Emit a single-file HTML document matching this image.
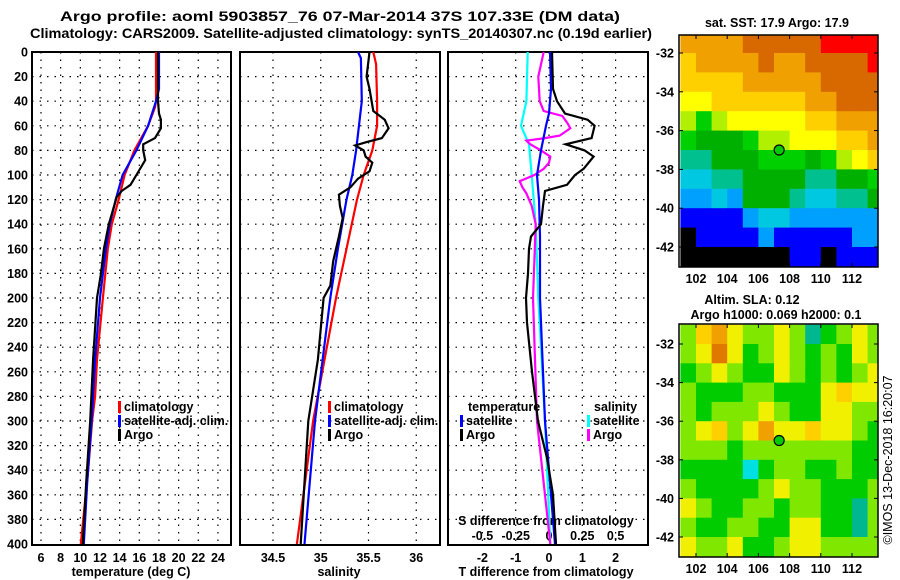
<!DOCTYPE html>
<html><head><meta charset="utf-8"><style>
html,body{margin:0;padding:0;background:#fff;}
svg{display:block;font-family:"Liberation Sans",Arial,sans-serif;font-weight:bold;}
</style></head><body>
<svg id="chart" width="900" height="580" viewBox="0 0 900 580" xmlns="http://www.w3.org/2000/svg">
<defs>
<clipPath id="c1"><rect x="32" y="52" width="199" height="493"/></clipPath>
<clipPath id="c2"><rect x="240" y="52" width="200" height="493"/></clipPath>
<clipPath id="c3"><rect x="448" y="52" width="200" height="493"/></clipPath>
<clipPath id="m1"><rect x="679" y="35" width="199" height="232"/></clipPath>
<clipPath id="m2"><rect x="679" y="324" width="199" height="233"/></clipPath>
</defs>
<text x="60" y="21" font-size="14" textLength="560" lengthAdjust="spacingAndGlyphs">Argo profile: aoml 5903857_76 07-Mar-2014 37S 107.33E (DM data)</text>
<text x="30" y="38" font-size="14" textLength="622" lengthAdjust="spacingAndGlyphs">Climatology: CARS2009. Satellite-adjusted climatology: synTS_20140307.nc (0.19d earlier)</text>
<g id="g"></g>
</svg>
<script>
// ---------- data ----------
const tempDepth = [0,40,45,60,80,100,120,140,160,200,250,280,300,340,400];
const tempClim  = [17.7,17.7,17.6,16.9,15.5,14.5,13.9,13.2,12.8,12.3,11.7,11.5,11.2,10.8,10.05];
const tempSatDepth = [0,30,40,60,80,100,120,140,160,200,250,300,350,400];
const tempSat   = [18.0,18.0,17.7,16.9,15.7,14.3,13.6,13.0,12.6,12.0,11.5,11.15,10.7,10.35];
const argoDepth = [0,40,50,55,62,70,75,80,88,100,108,113,118,140,160,180,200,250,300,350,400];
const argoTemp  = [17.9,17.9,18.0,18.2,18.2,17.6,16.4,16.4,16.6,15.7,15.1,14.2,13.7,12.9,12.4,12.1,11.7,11.3,11.0,10.6,10.25];

const salClim = [35.55,35.58,35.59,35.59,35.54,35.45,35.38,35.27,35.16,34.92,34.75];
const salClimDepth = [0,10,40,60,80,100,120,160,200,300,400];
const salSat = [35.39,35.42,35.43,35.37,35.33,35.27,35.18,35.10,34.94,34.83];
const salSatDepth = [0,5,40,80,100,120,160,200,300,400];
const argoSalDepth = [0,20,30,48,55,62,70,73,76,80,85,90,97,103,110,116,125,135,150,170,190,200,250,300,400];
const argoSal = [35.51,35.48,35.51,35.55,35.67,35.71,35.64,35.49,35.36,35.45,35.47,35.54,35.51,35.39,35.31,35.19,35.20,35.23,35.19,35.13,35.10,35.03,34.97,34.87,34.79];

const dTDepth = [0,30,40,50,55,60,70,75,80,85,95,100,108,113,125,140,150,160,180,200,220,260,300,330,360,400];
const dTArgo  = [0.09,0.12,0.24,0.48,1.16,1.37,1.28,0.5,1.07,1.34,1.04,0.78,0.54,-0.12,-0.18,-0.24,-0.54,-0.6,-0.63,-0.69,-0.66,-0.51,-0.33,-0.06,0.12,0.21];
const dTSatDepth = [0,30,50,60,80,100,120,150,200,300,400];
const dTSat   = [0.03,0.06,0,-0.09,-0.24,-0.36,-0.3,-0.27,-0.27,-0.12,0.18];
const dSSatDepth = [0,40,60,75,100,140,200,300,400];
const dSSat   = [-0.16,-0.17,-0.21,-0.15,-0.13,-0.1,-0.08,-0.03,0.01];
const dSArgoDepth = [0,20,40,48,52,58,62,68,70,72,75,80,85,90,95,100,105,110,115,125,140,200,300,400];
const dSArgo  = [-0.04,-0.08,-0.07,-0.04,0.1,0.14,0.16,0.08,-0.03,-0.17,-0.14,-0.06,0.01,0,-0.04,-0.11,-0.22,-0.2,-0.17,-0.13,-0.1,-0.12,-0.09,0.01];

const sstColors = ['#000000','#0000ff','#00a0ff','#00c8e0','#00c090','#00b000','#00d000','#b0f000','#ffff00','#ffd000','#f0a000','#d86800','#ff0000'];
const sstGrid = [
[10,10,10,10,11,11,11,11,11,12,12,12,12],
[9,10,10,10,10,11,10,10,11,11,11,11,12],
[9,9,9,9,10,10,10,10,10,11,11,11,11],
[8,8,9,9,9,9,9,9,10,10,11,11,11],
[7,6,7,8,8,8,8,8,9,9,10,10,10],
[6,5,5,5,6,7,7,8,8,8,9,9,10],
[4,4,5,5,5,6,6,6,5,6,7,8,9],
[3,3,4,4,5,5,5,5,4,4,5,5,6],
[2,2,3,2,5,5,5,4,3,3,4,4,5],
[1,1,1,1,2,3,3,2,2,2,2,2,2],
[0,1,1,1,1,2,1,1,1,1,1,2,2],
[0,0,0,0,0,0,0,1,1,0,1,1,1]];
const slaColors = ['#00e0e0','#00b890','#00cc00','#80e800','#f0f000','#ffd000','#f0a000','#e07800'];
const slaGrid = [
[3,5,6,4,3,3,4,3,1,2,3,4,3],
[3,4,7,4,2,3,4,3,2,3,2,4,3],
[2,3,4,3,2,2,4,3,2,3,2,3,4],
[3,2,2,2,3,3,2,2,2,4,5,4,4],
[3,2,3,3,3,4,3,2,2,4,4,3,3],
[3,4,5,3,4,6,4,4,5,4,4,3,2],
[3,3,3,2,3,3,3,3,3,3,3,2,2],
[2,2,2,2,0,2,3,3,2,2,3,2,2],
[3,2,2,2,2,3,4,3,3,2,2,2,3],
[4,3,2,2,3,3,2,3,3,2,2,1,3],
[3,2,2,3,3,2,2,4,4,2,2,1,3],
[4,3,3,4,2,2,3,4,4,3,3,3,3]];
const depthTicks = [0,20,40,60,80,100,120,140,160,180,200,220,240,260,280,300,320,340,360,380,400];
const tempTicks = [6,8,10,12,14,16,18,20,22,24];
const salTicks = [34.5,35,35.5,36];
const dTTicks = [-2,-1,0,1,2];
const dSTicks = [-0.5,-0.25,0,0.25,0.5];
const latTicks = [-32,-34,-36,-38,-40,-42];
const lonTicks = [102,104,106,108,110,112];
const argoLon = 107.33, argoLat = -37;

// ---------- scales ----------
const NS='http://www.w3.org/2000/svg';
const G=document.getElementById('g');
const yD = d => 52 + d*1.23;
const xT = t => 41 + (t-6)*9.83;
const xS = s => 273 + (s-34.5)*95.5;
const xDT = t => 549 + t*33.3;
const xDS = s => 549 + s*133.2;
const lonX = l => 696 + (l-102)*15.6;
const latY1 = l => 53 + (-32-l)*19.4;
const latY2 = l => 344 + (-32-l)*19.3;

function mk(tag, attrs, parent){const e=document.createElementNS(NS,tag);for(const k in attrs)e.setAttribute(k,attrs[k]);(parent||G).appendChild(e);return e;}
function txt(x,y,s,size,anchor,parent){const e=mk('text',{x:x,y:y,'font-size':size,'text-anchor':anchor||'start'},parent);e.textContent=s;return e;}

function panel(x0,w,name){
  const r=mk('rect',{x:x0,y:52,width:w,height:493,fill:'none',stroke:'#000','stroke-width':2});
  
  
  depthTicks.forEach(d=>{ if(d>0&&d<400){const l=mk('line',{x1:x0,x2:x0+w,y1:yD(d),y2:yD(d),stroke:'#000','stroke-dasharray':'1.5,6','stroke-width':1.2});
    
    }});
}
function vgrid(xs,name){xs.forEach(x=>{const l=mk('line',{x1:x,x2:x,y1:52,y2:545,stroke:'#000','stroke-dasharray':'1.5,6','stroke-width':1.2});
  
  });}
function series(ds,vs,sx,color,clip,name,w){
  const pts=ds.map((d,i)=>sx(vs[i]).toFixed(1)+','+yD(d).toFixed(1)).join(' ');
  const p=mk('polyline',{points:pts,fill:'none',stroke:color,'stroke-width':w||2.2,'clip-path':'url(#'+clip+')'});
  
  
}

// panel frames & grids
panel(32,199,'temperature-panel'); vgrid(tempTicks.map(xT),'temp-gridline');
panel(240,200,'salinity-panel'); vgrid(salTicks.map(xS),'sal-gridline');
panel(448,200,'difference-panel'); vgrid(dTTicks.map(xDT),'diff-gridline');

// depth labels
depthTicks.forEach(d=>{const t=txt(28,yD(d)+4.5,String(d),12.5,'end');
  
  });
tempTicks.forEach(v=>{const t=txt(xT(v),562,String(v),12.5,'middle');
  
  });
salTicks.forEach(v=>{const t=txt(xS(v),562,String(v),12.5,'middle');
  
  });
dTTicks.forEach(v=>{const t=txt(xDT(v),562,String(v),12.5,'middle');
  
  });
dSTicks.forEach(v=>{const t=txt(xDS(v),540,String(v),12.5,'middle');
  
  });
let a;
a=txt(131,576,'temperature (deg C)',12.5,'middle');  
a=txt(339,576,'salinity',12.5,'middle');  
a=txt(546,576,'T difference from climatology',12.5,'middle');  
a=txt(546,525,'S difference from climatology',12.5,'middle');  

// series
series(tempDepth,tempClim,xT,'#ff0000','c1','temp-climatology-line');
series(tempSatDepth,tempSat,xT,'#0000ff','c1','temp-satellite-line');
series(argoDepth,argoTemp,xT,'#000000','c1','temp-argo-line');
series(salClimDepth,salClim,xS,'#ff0000','c2','sal-climatology-line');
series(salSatDepth,salSat,xS,'#0000ff','c2','sal-satellite-line');
series(argoSalDepth,argoSal,xS,'#000000','c2','sal-argo-line');
series(dSSatDepth,dSSat,xDS,'#00ffff','c3','ds-satellite-line');
series(dSArgoDepth,dSArgo,xDS,'#ff00ff','c3','ds-argo-line');
series(dTSatDepth,dTSat,xDT,'#0000ff','c3','dt-satellite-line');
series(dTDepth,dTArgo,xDT,'#000000','c3','dt-argo-line');

// legends
function leg(x,y,color,label,name){
  const m=mk('rect',{x:x,y:y-10,width:3,height:12,fill:color});
  
  
  const t=txt(x+6,y,label,12.5,'start');
  
  
}
leg(118,411,'#ff0000','climatology','legend-temp-clim');
leg(118,425,'#0000ff','satellite-adj. clim.','legend-temp-sat');
leg(118,439,'#000000','Argo','legend-temp-argo');
leg(328,411,'#ff0000','climatology','legend-sal-clim');
leg(328,425,'#0000ff','satellite-adj. clim.','legend-sal-sat');
leg(328,439,'#000000','Argo','legend-sal-argo');
a=txt(468,411,'temperature',12.5,'start');  
a=txt(594,411,'salinity',12.5,'start');  
leg(460,425,'#0000ff','satellite','legend-dt-sat');
leg(460,439,'#000000','Argo','legend-dt-argo');
leg(587,425,'#00ffff','satellite','legend-ds-sat');
leg(587,439,'#ff00ff','Argo','legend-ds-argo');

// maps
function map(grid,colors,latY,clip,name,y0,y1){
  grid.forEach((row,j)=>row.forEach((v,i)=>{
    const x=lonX(101+i), y=latY(-31-j);
    const c=mk('rect',{x:x.toFixed(1),y:y.toFixed(1),width:16.2,height:(latY(-32-j)-y+0.6).toFixed(1),fill:colors[v],'clip-path':'url(#'+clip+')'});
    
    
  }));
  const f=mk('rect',{x:679,y:y0,width:199,height:y1-y0,fill:'none',stroke:'#000','stroke-width':1.5});
  
  
  latTicks.forEach(l=>{const t=txt(674,latY(l)+4.5,String(l),12.5,'end');
    
    
    mk('line',{x1:679,x2:683,y1:latY(l),y2:latY(l),stroke:'#000'});
    mk('line',{x1:874,x2:878,y1:latY(l),y2:latY(l),stroke:'#000'});});
  lonTicks.forEach(l=>{const t=txt(lonX(l),y1+16,String(l),12.5,'middle');
    
    
    mk('line',{x1:lonX(l),x2:lonX(l),y1:y0,y2:y0+4,stroke:'#000'});
    mk('line',{x1:lonX(l),x2:lonX(l),y1:y1-4,y2:y1,stroke:'#000'});});
  const m=mk('circle',{cx:lonX(argoLon),cy:latY(argoLat),r:5,fill:'#00cc00',stroke:'#000','stroke-width':1.2});
  
  
}
map(sstGrid,sstColors,latY1,'m1','sst-map',35,267);
map(slaGrid,slaColors,latY2,'m2','sla-map',324,557);
a=txt(777,27,'sat. SST: 17.9 Argo: 17.9',12.5,'middle');  
a=txt(752,304,'Altim. SLA: 0.12',12.5,'middle');  
a=txt(776,319,'Argo h1000: 0.069 h2000: 0.1',12.5,'middle');  
a=txt(0,0,'©IMOS 13-Dec-2018 16:20:07',12.5,'middle');
a.setAttribute('transform','translate(892,460) rotate(-90)');
a.setAttribute('font-weight','normal');
 
</script>
</body></html>
